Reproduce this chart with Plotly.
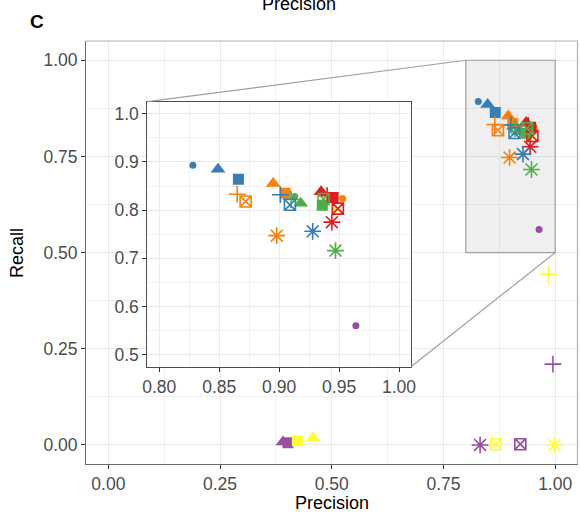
import plotly.graph_objects as go

W, H = 580, 514

# ---- data (precision, recall) per dataset / method ----
datasets = ["D1", "D2", "D3", "D4", "D5", "D6"]
methods = ["M1", "M2", "M3", "M4", "M5", "M6"]

# rows = methods, columns = datasets (D1..D6)
precision = {
    "M1": [0.946, 0.828, 0.913, 0.964, 0.953, 0.946],
    "M2": [0.935, 0.849, 0.918, 0.391, 0.895, 0.458],
    "M3": [0.945, 0.866, 0.936, 0.402, 0.905, 0.423],
    "M4": [0.940, 0.901, 0.910, 0.995, 0.865, 0.985],
    "M5": [0.949, 0.909, 0.937, 0.922, 0.872, 0.867],
    "M6": [0.944, 0.928, 0.947, 0.832, 0.898, 0.998],
}
recall = {
    "M1": [0.828, 0.893, 0.828, 0.560, 0.824, 0.801],
    "M2": [0.838, 0.885, 0.814, 0.008, 0.855, 0.018],
    "M3": [0.826, 0.864, 0.810, 0.006, 0.835, 0.011],
    "M4": [0.830, 0.832, 0.822, 0.210, 0.833, 0.444],
    "M5": [0.803, 0.811, 0.823, 0.002, 0.818, 0.002],
    "M6": [0.775, 0.756, 0.716, 0.000, 0.747, 0.000],
}

main_ticks = [0.0, 0.25, 0.5, 0.75, 1.0]
inset_xlim = [0.8, 1.0]
inset_ylim = [0.5, 1.0]

# ---- styles ----
colors = {"D1": "#E41A1C", "D2": "#377EB8", "D3": "#4DAF4A",
          "D4": "#984EA3", "D5": "#FF7F00", "D6": "#FFFF33"}
symbols = {"M1": "circle", "M2": "triangle-up", "M3": "square",
           "M4": "cross-thin-open", "M5": "square-x-open", "M6": "asterisk-open"}
sizes = {"M1": 7, "M2": 13, "M3": 11, "M4": 12, "M5": 11, "M6": 14}
lws = {"M1": 0, "M2": 0, "M3": 0, "M4": 1.6, "M5": 1.6, "M6": 1.6}

FONT = "Liberation Sans, Arial, sans-serif"
TICKC = "#4D4D4D"

# layout geometry (pixels)
main_x_px = [86, 577.5]
main_y_px = [41, 464.2]
ins_x_px = [147.3, 411]
ins_y_px = [101.7, 366.7]

def dom_x(px):
    return [px[0] / W, px[1] / W]

def dom_y(py):
    return [1 - py[1] / H, 1 - py[0] / H]

main_range = [-0.05, 1.05]
ins_xr = [inset_xlim[0] - 0.05 * (inset_xlim[1] - inset_xlim[0]),
          inset_xlim[1] + 0.05 * (inset_xlim[1] - inset_xlim[0])]
ins_yr = [inset_ylim[0] - 0.05 * (inset_ylim[1] - inset_ylim[0]),
          inset_ylim[1] + 0.05 * (inset_ylim[1] - inset_ylim[0])]

fig = go.Figure()

xs, ys, cs, ss, sz, lw = [], [], [], [], [], []
for m in methods:
    for i, d in enumerate(datasets):
        xs.append(precision[m][i])
        ys.append(recall[m][i])
        cs.append(colors[d])
        ss.append(symbols[m])
        sz.append(sizes[m])
        lw.append(lws[m])

marker = dict(color=cs, symbol=ss, size=sz, opacity=1, line=dict(width=lw, color=cs))
for xa, ya in [("x", "y"), ("x2", "y2")]:
    fig.add_trace(go.Scatter(x=xs, y=ys, mode="markers", marker=marker,
                             xaxis=xa, yaxis=ya, showlegend=False, hoverinfo="skip"))

def axis_common(**kw):
    d = dict(showgrid=True, gridcolor="#EBEBEB", gridwidth=1.2, automargin=False,
             zeroline=False, ticks="outside", ticklen=4, tickwidth=1,
             tickcolor="#333333", tickfont=dict(family=FONT, size=17.5, color=TICKC),
             showline=True, linewidth=1)
    d.update(kw)
    return d

fig.update_layout(
    width=W, height=H, margin=dict(l=0, r=0, t=0, b=0, autoexpand=False),
    paper_bgcolor="white", plot_bgcolor="white",
    xaxis=axis_common(domain=dom_x(main_x_px), range=main_range, anchor="y",
                      tickmode="array", tickvals=main_ticks, tickformat=".2f",
                      linecolor="#6E6E6E",
                      minor=dict(tickmode="linear", tick0=0, dtick=0.125, showgrid=True,
                                 gridcolor="#F1F1F1", gridwidth=0.8, ticks="")),
    yaxis=axis_common(domain=dom_y(main_y_px), range=main_range, anchor="x",
                      tickmode="array", tickvals=main_ticks, tickformat=".2f",
                      linecolor="#6E6E6E",
                      minor=dict(tickmode="linear", tick0=0, dtick=0.125, showgrid=True,
                                 gridcolor="#F1F1F1", gridwidth=0.8, ticks="")),
    xaxis2=axis_common(domain=dom_x(ins_x_px), range=ins_xr, anchor="y2",
                       tickmode="linear", tick0=0.8, dtick=0.05, tickformat=".2f",
                       linecolor="#4D4D4D", mirror=True,
                       minor=dict(tickmode="linear", tick0=0.8, dtick=0.025, showgrid=True,
                                  gridcolor="#F1F1F1", gridwidth=0.8, ticks="")),
    yaxis2=axis_common(domain=dom_y(ins_y_px), range=ins_yr, anchor="x2",
                       tickmode="linear", tick0=0.5, dtick=0.1, tickformat=".1f",
                       linecolor="#4D4D4D", mirror=True,
                       minor=dict(tickmode="linear", tick0=0.5, dtick=0.05, showgrid=True,
                                  gridcolor="#F1F1F1", gridwidth=0.8, ticks="")),
)

def mx(v):
    d = dom_x(main_x_px)
    return d[0] + (v - main_range[0]) / (main_range[1] - main_range[0]) * (d[1] - d[0])

def my(v):
    d = dom_y(main_y_px)
    return d[0] + (v - main_range[0]) / (main_range[1] - main_range[0]) * (d[1] - d[0])

shapes = []
# inset white background (below inset gridlines, above main grid)
shapes.append(dict(type="rect", xref="x2", yref="y2", x0=ins_xr[0], x1=ins_xr[1],
                   y0=ins_yr[0], y1=ins_yr[1], fillcolor="white",
                   line=dict(width=0), layer="below"))
# main panel top/right border
mdx, mdy = dom_x(main_x_px), dom_y(main_y_px)
shapes.append(dict(type="line", xref="paper", yref="paper", x0=mdx[0], x1=mdx[1],
                   y0=mdy[1], y1=mdy[1], line=dict(color="#B0B0B0", width=1.2), layer="above"))
shapes.append(dict(type="line", xref="paper", yref="paper", x0=mdx[1], x1=mdx[1],
                   y0=mdy[0], y1=mdy[1], line=dict(color="#B0B0B0", width=1.2), layer="above"))
# zoom rectangle
shapes.append(dict(type="rect", xref="x", yref="y", x0=inset_xlim[0], x1=inset_xlim[1],
                   y0=inset_ylim[0], y1=inset_ylim[1],
                   fillcolor="rgba(128,128,128,0.13)",
                   line=dict(color="#A0A0A0", width=1.2), layer="between"))
# connector lines
idx, idy = dom_x(ins_x_px), dom_y(ins_y_px)
shapes.append(dict(type="line", xref="paper", yref="paper",
                   x0=idx[0], y0=idy[1], x1=mx(inset_xlim[0]), y1=my(inset_ylim[1]),
                   line=dict(color="#A0A0A0", width=1.2), layer="above"))
shapes.append(dict(type="line", xref="paper", yref="paper",
                   x0=idx[1], y0=idy[0], x1=mx(inset_xlim[1]), y1=my(inset_ylim[0]),
                   line=dict(color="#A0A0A0", width=1.2), layer="above"))
fig.update_layout(shapes=shapes)

ann = []
ann.append(dict(text="<b>C</b>", xref="paper", yref="paper", x=37 / W, y=1 - 21.5 / H,
                xanchor="center", yanchor="middle", showarrow=False,
                font=dict(family=FONT, size=19, color="black")))
ann.append(dict(text="Precision", xref="paper", yref="paper", x=299 / W, y=1 - 4 / H,
                xanchor="center", yanchor="middle", showarrow=False,
                font=dict(family=FONT, size=18, color="black")))
ann.append(dict(text="Precision", xref="paper", yref="paper", x=332 / W, y=1 - 503 / H,
                xanchor="center", yanchor="middle", showarrow=False,
                font=dict(family=FONT, size=18, color="black")))
ann.append(dict(text="Recall", xref="paper", yref="paper", x=17 / W, y=1 - 253 / H,
                xanchor="center", yanchor="middle", textangle=-90, showarrow=False,
                font=dict(family=FONT, size=18, color="black")))
fig.update_layout(annotations=ann)

fig.write_html("out.html")
